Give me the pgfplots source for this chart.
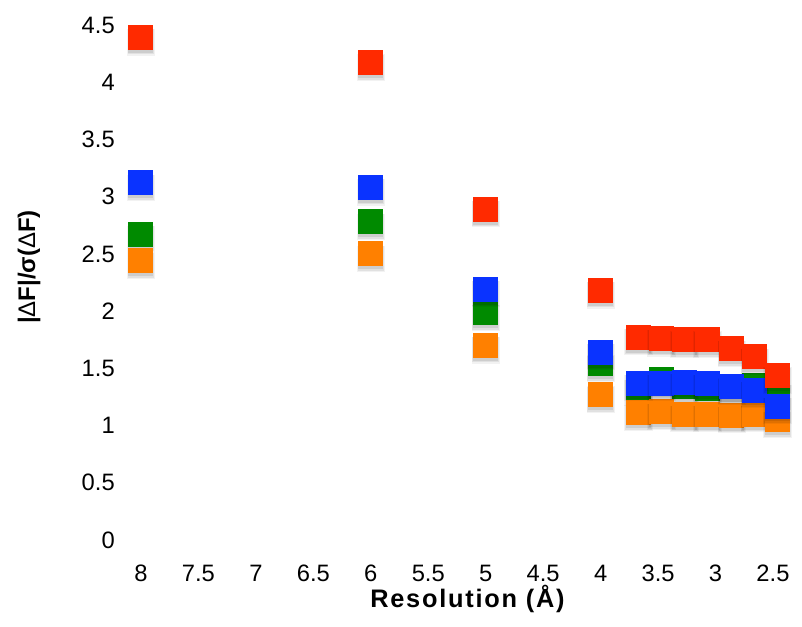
\documentclass[border=0pt]{standalone}
\usepackage{fontspec}
\setmainfont{Liberation Sans}
\usepackage{pgfplots}
\pgfplotsset{compat=1.18}
\definecolor{cred}{HTML}{FF2A00}
\definecolor{cblue}{HTML}{0A33FF}
\definecolor{cgreen}{HTML}{008A00}
\definecolor{corange}{HTML}{FF8000}
\pgfdeclareplotmark{shsq}{%
  \begin{pgfscope}
    \pgfsetfillcolor{black}%
    \pgfsetfillopacity{0.05}%
    \pgfpathrectangle{\pgfpoint{-\pgfplotmarksize-1.2pt}{-\pgfplotmarksize-4.2pt}}{\pgfpoint{2\pgfplotmarksize+2.4pt}{2\pgfplotmarksize+1pt}}%
    \pgfusepath{fill}%
    \pgfsetfillopacity{0.07}%
    \pgfpathrectangle{\pgfpoint{-\pgfplotmarksize-0.6pt}{-\pgfplotmarksize-3.3pt}}{\pgfpoint{2\pgfplotmarksize+1.2pt}{2\pgfplotmarksize}}%
    \pgfusepath{fill}%
    \pgfsetfillopacity{0.09}%
    \pgfpathrectangle{\pgfpoint{-\pgfplotmarksize}{-\pgfplotmarksize-2.2pt}}{\pgfpoint{2\pgfplotmarksize}{2\pgfplotmarksize}}%
    \pgfusepath{fill}%
  \end{pgfscope}%
  \pgfpathrectangle{\pgfpoint{-\pgfplotmarksize}{-\pgfplotmarksize}}{\pgfpoint{2\pgfplotmarksize}{2\pgfplotmarksize}}%
  \pgfusepath{fill}%
}
\begin{document}
\begin{tikzpicture}
\begin{axis}[
  scale only axis,
  width=474pt, height=386.25pt,
  x dir=reverse,
  xmin=2.5, xmax=8, ymin=0, ymax=4.5,
  clip=false,
  axis line style={draw=none},
  tick style={draw=none},
  xtick={2.5,3,3.5,4,4.5,5,5.5,6,6.5,7,7.5,8},
  ytick={0,0.5,1,1.5,2,2.5,3,3.5,4,4.5},
  /pgf/number format/assume math mode=true,
  ticklabel style={font=\fontsize{17.8}{20}\selectfont},
  xticklabel style={anchor=north, inner sep=0pt, yshift=-18.5pt},
  yticklabel style={anchor=east, inner sep=0pt, xshift=-19.5pt},
  xlabel={Resolution (Å)},
  xlabel style={at={(axis description cs:0.5166,0)}, anchor=base, yshift=-51pt, inner sep=0pt,
    font=\fontsize{19}{21}\selectfont\bfseries\addfontfeature{LetterSpace=7}},
  ylabel={|{\mdseries Δ}F|/σ({\mdseries Δ}F)},
  ylabel style={at={(axis description cs:-0.1772,0.530)}, anchor=center, rotate=0, inner sep=0pt,
    font=\fontsize{18}{20}\selectfont\bfseries},
  every axis plot/.append style={only marks, mark=shsq, mark size=9.375pt},
]
\addplot[cgreen, mark options={fill=cgreen}] coordinates {
  (8,2.67) (6,2.78) (5,1.985) (4,1.54) (3.67,1.325) (3.47,1.40) (3.27,1.34) (3.07,1.325) (2.86,1.34) (2.66,1.35) (2.46,1.28)
};
\addplot[corange, mark options={fill=corange}] coordinates {
  (8,2.44) (6,2.50) (5,1.70) (4,1.27) (3.67,1.11) (3.47,1.12) (3.27,1.10) (3.07,1.10) (2.86,1.09) (2.66,1.10) (2.46,1.05)
};
\addplot[cblue, mark options={fill=cblue}] coordinates {
  (8,3.12) (6,3.08) (5,2.19) (4,1.64) (3.67,1.37) (3.47,1.37) (3.27,1.38) (3.07,1.37) (2.86,1.34) (2.66,1.31) (2.46,1.17)
};
\addplot[cred, mark options={fill=cred}] coordinates {
  (8,4.39) (6,4.17) (5,2.89) (4,2.18) (3.67,1.77) (3.47,1.76) (3.27,1.75) (3.07,1.75) (2.86,1.67) (2.66,1.60) (2.46,1.435)
};
\path (axis description cs:-0.2231,-0.1689) rectangle (axis description cs:1.0459,1.0485);
\end{axis}
\end{tikzpicture}
\end{document}
